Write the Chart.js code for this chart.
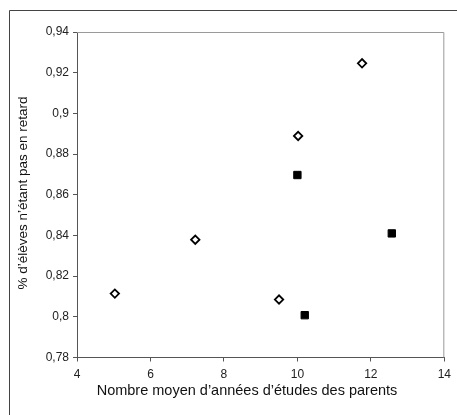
<!DOCTYPE html>
<html>
<head>
<meta charset="utf-8">
<script src="https://cdn.jsdelivr.net/npm/chart.js@4/dist/chart.umd.min.js"></script>
<style>
  html, body { margin: 0; padding: 0; background: #fff; }
  #wrap { width: 457px; height: 415px; }
</style>
</head>
<body>
<div id="wrap"><canvas id="scatterChart" width="457" height="415"></canvas></div>
<script>
// values
const diamondX = [5.03, 7.22, 9.5, 10.02, 11.76];
const diamondY = [0.8114, 0.8379, 0.8085, 0.8889, 0.9246];
const squareX = [10.0, 10.2, 12.57];
const squareY = [0.8697, 0.8008, 0.841];

const xTitle = 'Nombre moyen d\u2019années d\u2019études des parents';
const yTitle = '% d\u2019élèves n\u2019étant pas en retard';

const FONT = 'Liberation Sans, Arial, Helvetica, sans-serif';

function toPoints(xs, ys) {
    return xs.map((x, i) => ({ x: x, y: ys[i] }));
}

// outer frame, grey top/right border of plot area, axis titles
const framePlugin = {
    id: 'frame',
    afterDraw(chart) {
        const ctx = chart.ctx;
        const a = chart.chartArea;
        ctx.save();
        ctx.strokeStyle = '#9a9a9a';
        ctx.lineWidth = 1;
        ctx.beginPath();
        ctx.moveTo(a.left, a.top + 0.5);
        ctx.lineTo(a.right - 0.5, a.top + 0.5);
        ctx.lineTo(a.right - 0.5, a.bottom);
        ctx.stroke();

        ctx.strokeStyle = '#444';
        ctx.beginPath();
        ctx.moveTo(9.5, 500);
        ctx.lineTo(9.5, 10.5);
        ctx.lineTo(600, 10.5);
        ctx.stroke();

        ctx.fillStyle = '#111';
        ctx.textAlign = 'center';
        ctx.textBaseline = 'middle';
        ctx.font = '14.5px ' + FONT;
        ctx.fillText(xTitle, 247, 391);

        ctx.translate(23, 193);
        ctx.rotate(-Math.PI / 2);
        ctx.font = '13.5px ' + FONT;
        ctx.fillText(yTitle, 0, 0);
        ctx.restore();
    }
};

const ctx = document.getElementById('scatterChart').getContext('2d');
const scatterChart = new Chart(ctx, {
    type: 'scatter',
    data: {
        datasets: [{
            label: 'A',
            data: toPoints(diamondX, diamondY),
            pointStyle: 'rectRot',
            pointRadius: 4.2,
            pointHoverRadius: 4.2,
            borderColor: '#000',
            backgroundColor: '#fff',
            pointBorderWidth: 1.8
        }, {
            label: 'B',
            data: toPoints(squareX, squareY),
            pointStyle: 'rect',
            pointRadius: 5.2,
            pointHoverRadius: 5.2,
            borderColor: '#000',
            backgroundColor: '#000',
            pointBorderWidth: 1
        }]
    },
    options: {
        responsive: false,
        animation: false,
        layout: { padding: { top: 32, right: 10, left: 0, bottom: 0 } },
        plugins: {
            legend: { display: false },
            tooltip: { enabled: false }
        },
        scales: {
            x: {
                min: 4,
                max: 14,
                afterFit(scale) { scale.height = 57.5; },
                ticks: {
                    stepSize: 2,
                    color: '#222',
                    padding: 6,
                    font: { family: FONT, size: 12 }
                },
                grid: {
                    drawOnChartArea: false,
                    drawTicks: true,
                    tickLength: 4,
                    color: '#555'
                },
                border: { color: '#555', width: 1 }
            },
            y: {
                min: 0.78,
                max: 0.94,
                afterFit(scale) { scale.width = 77; },
                ticks: {
                    stepSize: 0.02,
                    color: '#222',
                    padding: 4,
                    font: { family: FONT, size: 12 },
                    callback: (v) => String(Math.round(v * 100) / 100).replace('.', ',')
                },
                grid: {
                    drawOnChartArea: false,
                    drawTicks: true,
                    tickLength: 4,
                    color: '#555'
                },
                border: { color: '#555', width: 1 }
            }
        }
    },
    plugins: [framePlugin]
});
</script>
</body>
</html>
